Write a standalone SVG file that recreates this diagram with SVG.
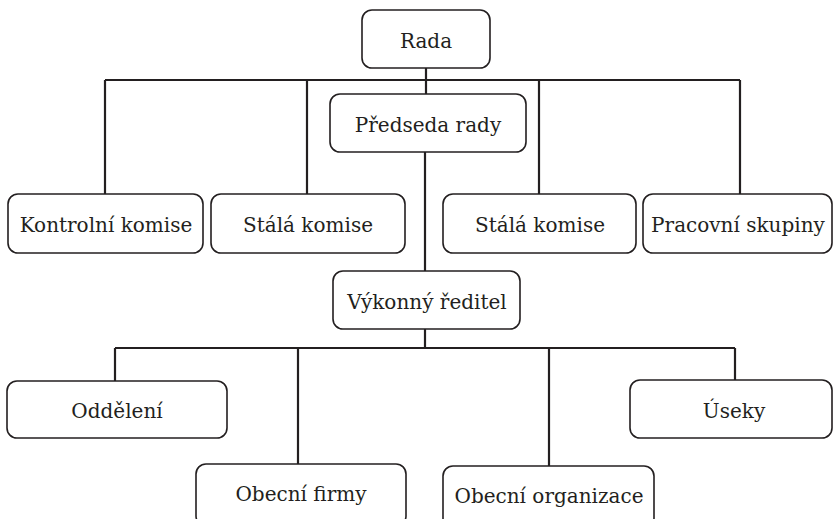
<svg xmlns="http://www.w3.org/2000/svg" width="834" height="519" viewBox="0 0 834 519">
<style>
.box{fill:#fff;stroke:#231f20;stroke-width:1.6}
.lbl{font-family:'DejaVu Serif',serif;font-size:20px;fill:#231f20;text-anchor:middle}
.con{fill:none;stroke:#231f20;stroke-width:2.2}
</style>
<rect width="834" height="519" fill="#fff"/>
<g id="connectors">
<path class="con" d="M426 68V94M105 80H740M105 80V194M307 80V194M539 80V194M740 80V194"/>
<path class="con" d="M425 152V271M425 329V348M115 348H735M115 348V381M298 348V464M549 348V466M735 348V380"/>
</g>
<g id="rada"><rect class="box" x="362" y="10" width="128" height="58" rx="10"/><text class="lbl" x="426" y="48">Rada</text></g>
<g id="predseda"><rect class="box" x="330" y="94" width="196" height="58" rx="10"/><text class="lbl" x="428" y="132">Předseda rady</text></g>
<g id="kontrolni"><rect class="box" x="8" y="194" width="195" height="59" rx="10"/><text class="lbl" x="106" y="232">Kontrolní komise</text></g>
<g id="stala1"><rect class="box" x="211" y="194" width="194" height="59" rx="10"/><text class="lbl" x="308" y="232">Stálá komise</text></g>
<g id="stala2"><rect class="box" x="443" y="194" width="193" height="59" rx="10"/><text class="lbl" x="540" y="232">Stálá komise</text></g>
<g id="pracovni"><rect class="box" x="643" y="194" width="189" height="59" rx="10"/><text class="lbl" x="738" y="232">Pracovní skupiny</text></g>
<g id="vykonny"><rect class="box" x="333" y="271" width="187" height="58" rx="10"/><text class="lbl" x="427" y="309">Výkonný ředitel</text></g>
<g id="oddeleni"><rect class="box" x="7" y="381" width="220" height="57" rx="10"/><text class="lbl" x="117" y="418">Oddělení</text></g>
<g id="useky"><rect class="box" x="630" y="380" width="202" height="58" rx="10"/><text class="lbl" x="734" y="418">Úseky</text></g>
<g id="firmy"><rect class="box" x="196" y="464" width="210" height="62" rx="10"/><text class="lbl" x="301" y="501">Obecní firmy</text></g>
<g id="organizace"><rect class="box" x="443" y="466" width="211" height="62" rx="10"/><text class="lbl" x="549" y="503">Obecní organizace</text></g>
</svg>
